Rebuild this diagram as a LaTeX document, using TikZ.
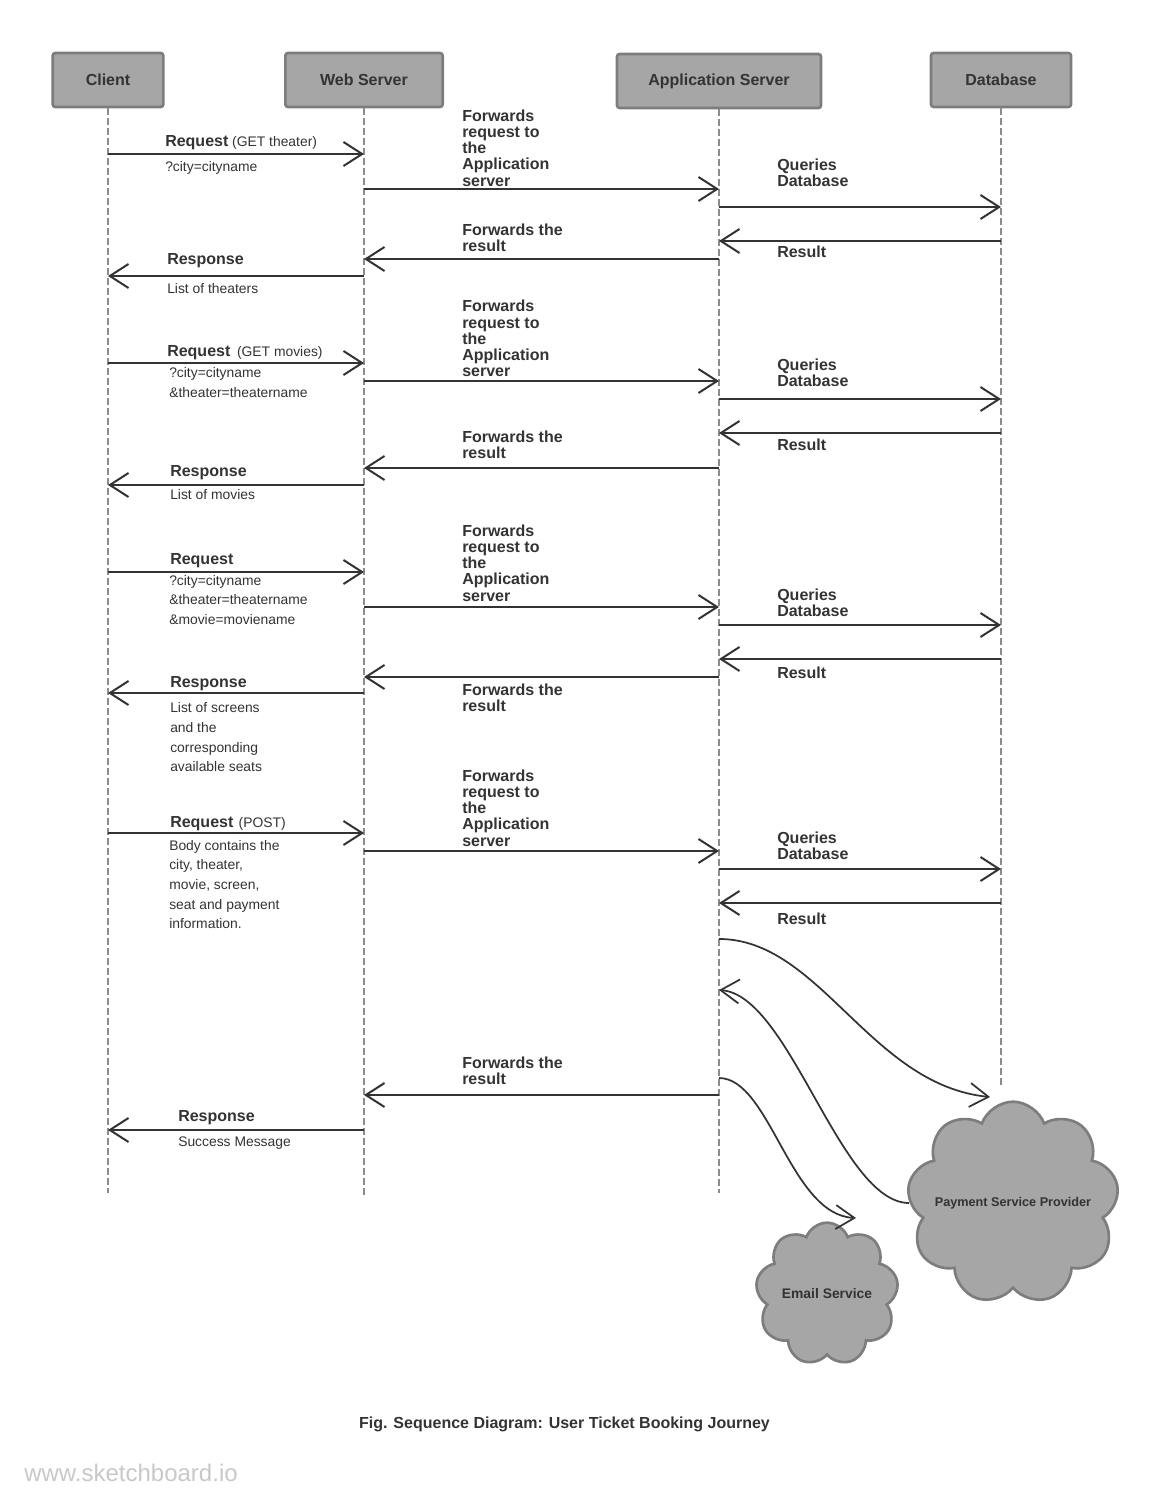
\documentclass[tikz,border=0pt]{standalone}
\usepackage{fontspec}
\setmainfont{Liberation Sans}
\usetikzlibrary{arrows.meta, positioning, shapes.symbols}
\definecolor{boxgray}{RGB}{166,166,166}
\definecolor{boxline}{RGB}{125,125,125}
\definecolor{inkgray}{RGB}{51,51,51}
\definecolor{dashgray}{RGB}{140,140,140}
\definecolor{markgray}{RGB}{200,200,200}
\newcommand{\msgword}[1]{{\bfseries\fontsize{12}{14}\selectfont #1}}

\begin{document}
\begin{tikzpicture}[x=0.75pt, y=-0.75pt,
    actor/.style={draw=boxline, fill=boxgray, line width=2pt, rounded corners=2pt, minimum height=40.5pt, text=inkgray, font=\bfseries\fontsize{12}{14}\selectfont},
    life/.style={dashgray, line width=1.25pt, dash pattern=on 5pt off 2.5pt},
    msg/.style={inkgray, line width=1.5pt, -{Straight Barb[length=14pt, width=18pt]}},
    sweep/.style={inkgray, line width=1.3pt, -{Straight Barb[length=14pt, width=18pt]}},
    lbl/.style={inner sep=0pt, align=left, text=inkgray, font=\bfseries\fontsize{12}{12.2}\selectfont},
    note/.style={inner sep=0pt, align=left, text=inkgray, font=\fontsize{10.4}{14.7}\selectfont},
    svc/.style={cloud, cloud puffs=9, cloud puff arc=140, cloud ignores aspect, draw=boxline, fill=boxgray, line width=2pt, text=inkgray, inner sep=0pt}]
    \useasboundingbox (0,0) rectangle (1169,1508);

    % Participants
    \node[actor, minimum width=83pt] (cli) at (108,80) {Client};
    \node[actor, minimum width=118pt] (web) at (364,80) {Web Server};
    \node[actor, minimum width=153pt] (app) at (719,81) {Application Server};
    \node[actor, minimum width=105pt] (dbs) at (1001,80) {Database};

    % Lifelines
    \foreach \n/\yend in {cli/1193, web/1195, app/1193, dbs/1085}
        \draw[life] (\n.south) -- (\n |- 0,\yend);

    % Web server -> application server -> database and back
    \foreach \i/\yf/\yq/\yr/\tf/\tq/\tr in {1/189/207/241/109.3/158.3/258, 2/381/399/433/300/358.3/450, 3/607/625/659/524.3/588.3/678, 4/851/869/903/769.3/831.3/924} {
        \draw[msg] (web |- 0,\yf) -- (app |- 0,\yf);
        \draw[msg] (app |- 0,\yq) -- (dbs |- 0,\yq);
        \draw[msg] (dbs |- 0,\yr) -- (app |- 0,\yr);
        \node[lbl, anchor=north west] (fwd\i) at (462,\tf) {Forwards\\request to\\the\\Application\\server};
        \node[lbl, anchor=north west] (qry\i) at (777,\tq) {Queries\\Database};
        \node[lbl, anchor=base west] (res\i) at (777,\tr) {Result};
    }
    \foreach \i/\yb/\tb in {1/259/223.3, 2/468/430.3, 3/677/683.3, 4/1095/1056.3} {
        \draw[msg] (app |- 0,\yb) -- (web |- 0,\yb);
        \node[lbl, anchor=north west] (back\i) at (462,\tb) {Forwards the\\result};
    }

    % Client <-> web server
    \draw[msg] (cli |- 0,154) -- (web |- 0,154);
    \node[note, anchor=base west] (req1) at (165,146.5) {\msgword{Request} (GET theater)};
    \node[note, anchor=base west] (par1) at (165,171.5) {?city=cityname};
    \draw[msg] (web |- 0,276) -- (cli |- 0,276);
    \node[lbl, anchor=base west] (rsp1) at (167,265) {Response};
    \node[note, anchor=base west] (lst1) at (167,293.5) {List of theaters};

    \draw[msg] (cli |- 0,363) -- (web |- 0,363);
    \node[note, anchor=base west] (req2) at (167,356.7) {\msgword{Request}\hspace{5pt}(GET movies)};
    \node[note, anchor=north west] (par2) at (169,367.5) {?city=cityname\\\&theater=theatername};
    \draw[msg] (web |- 0,485) -- (cli |- 0,485);
    \node[lbl, anchor=base west] (rsp2) at (170,476.7) {Response};
    \node[note, anchor=base west] (lst2) at (170,499.5) {List of movies};

    \draw[msg] (cli |- 0,572) -- (web |- 0,572);
    \node[lbl, anchor=base west] (req3) at (170,564.5) {Request};
    \node[note, anchor=north west] (par3) at (169,575) {?city=cityname\\\&theater=theatername\\\&movie=moviename};
    \draw[msg] (web |- 0,693) -- (cli |- 0,693);
    \node[lbl, anchor=base west] (rsp3) at (170,687) {Response};
    \node[note, anchor=north west] (lst3) at (170,702.5) {List of screens\\and the\\corresponding\\available seats};

    \draw[msg] (cli |- 0,833) -- (web |- 0,833);
    \node[note, anchor=base west] (req4) at (170,827.7) {\msgword{Request}\hspace{4pt}(POST)};
    \node[note, anchor=north west] (par4) at (169,840) {Body contains the\\city, theater,\\movie, screen,\\seat and payment\\information.};
    \draw[msg] (web |- 0,1130) -- (cli |- 0,1130);
    \node[lbl, anchor=base west] (rsp4) at (178,1121) {Response};
    \node[note, anchor=base west] (lst4) at (178,1146) {Success Message};

    % External services
    \node[svc, minimum width=152pt, minimum height=152pt, font=\bfseries\fontsize{9.5}{11}\selectfont] (pay) at (1013,1203) {Payment Service Provider};
    \node[svc, minimum width=107pt, minimum height=107pt, font=\bfseries\fontsize{10.4}{12}\selectfont] (eml) at (827,1294) {Email Service};
    \coordinate (payIn) at (990,1097);
    \coordinate (emlIn) at (856,1218);
    \draw[sweep] (app |- 0,939) .. controls (820,939) and (870,1085) .. (payIn);
    \draw[sweep] (pay.west) .. controls (840,1203) and (790,995) .. (app |- 0,990);
    \draw[sweep] (app |- 0,1078) .. controls (770,1078) and (790,1215) .. (emlIn);

    \node[text=inkgray, font=\bfseries\fontsize{12}{14}\selectfont] (cap) at (564.5,1424) {Fig. Sequence Diagram: User Ticket Booking Journey};
    \node[anchor=base west, inner sep=0pt, text=markgray, font=\fontsize{18}{21}\selectfont] (mark) at (24,1481) {www.sketchboard.io};
\end{tikzpicture}
\end{document}
